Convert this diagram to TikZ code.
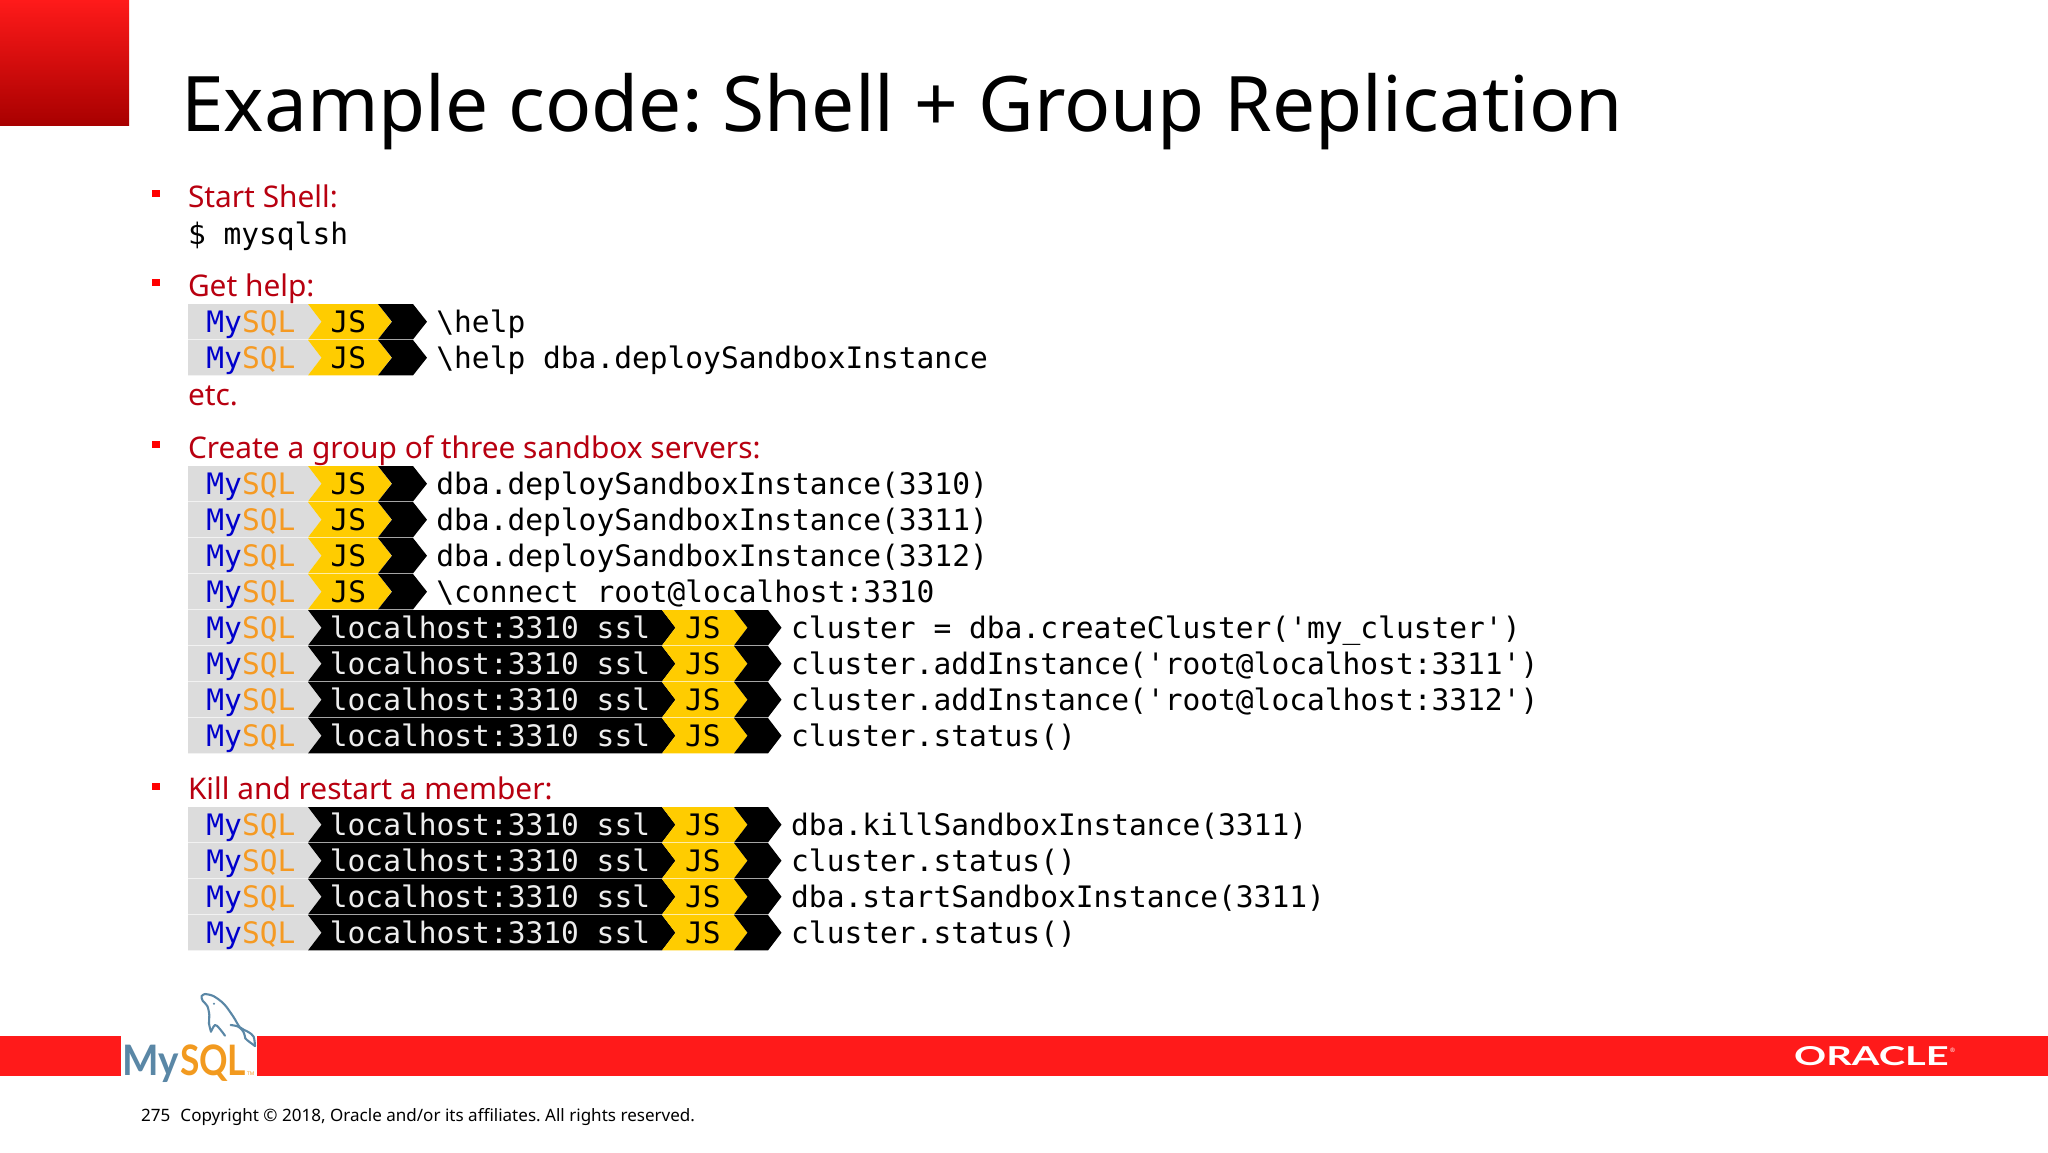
\documentclass[tikz,border=0pt]{standalone}
\usepackage{fontspec}
\usepackage{graphicx}
\setmainfont{Noto Sans}
\newfontfamily\monof{DejaVu Sans Mono}
\newfontfamily\logof{Lato}
\usetikzlibrary{calc}
\frenchspacing
\definecolor{barred}{HTML}{FF1A1A}
\definecolor{topred}{HTML}{A80000}
\definecolor{bodyred}{HTML}{B80010}
\definecolor{promptgrey}{HTML}{DCDCDC}
\definecolor{promptyellow}{HTML}{FFCC00}
\definecolor{myblue}{HTML}{0000CC}
\definecolor{sqlorange}{HTML}{F59A23}
\definecolor{logoblue}{HTML}{5A87A6}
\definecolor{logoorange}{HTML}{F29A1F}
\definecolor{hosttext}{HTML}{EDEDED}
\tikzset{
  x=1pt,y=-1pt,
  txt/.style={anchor=base west,inner sep=0pt,outer sep=0pt},
  head/.style={txt,text=bodyred,font=\fontsize{29.85}{30}\selectfont},
  mono/.style={txt,font=\monof\fontsize{29.55}{30}\selectfont},
  bulletmark/.style={fill=red,draw=none},
  logoline/.style={draw=logoblue,line width=2.1pt,line cap=round,line join=round}
}
\newcommand{\rowh}{35.4}
\newcounter{rowno}
\newcommand{\promptmy}[1]{%
  \fill[promptgrey] (188,#1) -- (308,#1) -- (321.5,#1+\rowh/2) -- (308,#1+\rowh) -- (188,#1+\rowh) -- cycle;
  \node[mono,text=myblue] (my\therowno) at (206.4,#1+28.4) {My};
  \node[mono,text=sqlorange] (sql\therowno) at (242,#1+28.4) {SQL};
}
\newcommand{\chev}[5]{% colour, x0, x1, notch/tip depth, top
  \fill[#1] (#2,#5) -- (#3,#5) -- (#3+#4,#5+\rowh/2) -- (#3,#5+\rowh) -- (#2,#5+\rowh) -- (#2+#4,#5+\rowh/2) -- cycle;
}
\newcommand{\shortrow}[2]{%
  \stepcounter{rowno}
  \promptmy{#1}
  \chev{promptyellow}{308}{378}{13.5}{#1}
  \chev{black}{378}{413}{14}{#1}
  \node[mono] (js\therowno) at (330.6,#1+28.4) {JS};
  \node[mono] (cmd\therowno) at (436.4,#1+28.4) {#2};
}
\newcommand{\longrow}[2]{%
  \stepcounter{rowno}
  \promptmy{#1}
  \chev{black}{308}{662}{13.5}{#1}
  \chev{promptyellow}{662}{734}{13.5}{#1}
  \chev{black}{734}{768}{13.5}{#1}
  \node[mono,text=hosttext] (host\therowno) at (329.9,#1+28.4) {localhost:3310 ssl};
  \node[mono] (js\therowno) at (685,#1+28.4) {JS};
  \node[mono] (cmd\therowno) at (791.2,#1+28.4) {#2};
}
\begin{document}
\begin{tikzpicture}
\useasboundingbox (0,0) rectangle (2048,1152);
\fill[white] (0,0) rectangle (2048,1152);
% corner block
\shade[top color=barred,bottom color=topred] (0,0) rectangle (129,125);
\node[txt,font=\fontsize{76.6}{76}\selectfont] (title) at (181,131.5) {Example code: Shell + Group Replication};
% bullets
\fill[bulletmark] (152,190) rectangle (160,197);
\fill[bulletmark] (152,279) rectangle (160,286);
\fill[bulletmark] (152,441) rectangle (160,448);
\fill[bulletmark] (152,783) rectangle (160,790);
\node[head] (h1) at (188,207) {Start Shell:};
\node[mono] (shell) at (188,244) {\$ mysqlsh};
\node[head] (h2) at (188,296.5) {Get help:};
\shortrow{304}{\textbackslash help}
\shortrow{340}{\textbackslash help dba.deploySandboxInstance}
\node[head] (etc) at (188,405) {etc.};
\node[head] (h3) at (188,458) {Create a group of three sandbox servers:};
\shortrow{466}{dba.deploySandboxInstance(3310)}
\shortrow{502}{dba.deploySandboxInstance(3311)}
\shortrow{538}{dba.deploySandboxInstance(3312)}
\shortrow{574}{\textbackslash connect root@localhost:3310}
\longrow{610}{cluster = dba.createCluster('my\_cluster')}
\longrow{646}{cluster.addInstance('root@localhost:3311')}
\longrow{682}{cluster.addInstance('root@localhost:3312')}
\longrow{718}{cluster.status()}
\node[head] (h4) at (188,799) {Kill and restart a member:};
\longrow{807}{dba.killSandboxInstance(3311)}
\longrow{843}{cluster.status()}
\longrow{879}{dba.startSandboxInstance(3311)}
\longrow{915}{cluster.status()}
% footer band
\fill[barred] (0,1036) rectangle (121,1076);
\fill[barred] (257,1036) rectangle (2048,1076);
% logo
\node[txt,text=logoblue,font=\logof\bfseries\fontsize{42}{42}\selectfont] (logomy) at (122,1075) {\scalebox{0.92}[1]{My}};
\node[txt,text=logoorange,font=\logof\bfseries\fontsize{42}{42}\selectfont] (logosql) at (180,1075) {\scalebox{0.84}[1]{SQL}};
\node[txt,text=logoorange,font=\fontsize{5}{5}\selectfont] (logotm) at (247,1075) {TM};
\begin{scope}[shift={(100,970)},x=0.3333pt,y=-0.3333pt]
\draw[logoline] plot[smooth,tension=0.55] coordinates {(315,72) (340,78) (372,102) (400,140) (420,172) (445,186) (461,200) (465,228)};
\draw[logoline] (465,228) .. controls (452,218) and (442,212) .. (436,205);
\draw[logoline] plot[smooth,tension=0.55] coordinates {(436,205) (430,185) (415,170) (392,165)};
\draw[logoline] plot[smooth,tension=0.55] coordinates {(315,72) (305,78) (308,92) (322,108) (328,135) (327,160) (333,185)};
\draw[logoline] plot[smooth,tension=0.55] coordinates {(333,185) (345,165) (358,175) (375,197)};
\fill[logoblue] (342,101) circle (3.5);
\end{scope}
% oracle
\node[anchor=base west,inner sep=0pt,text=white,font=\logof\bfseries\fontsize{26}{26}\selectfont] (oracle) at (1794,1065) {\scalebox{1.53}[1]{ORACLE}};
\node[anchor=base west,inner sep=0pt,text=white,font=\fontsize{6}{6}\selectfont] (oraclereg) at (1950,1052) {®};
\node[txt,font=\fontsize{17.05}{18}\selectfont] (foot) at (141,1121) {275\hspace{0.6em}Copyright © 2018, Oracle and/or its affiliates. All rights reserved.};
\end{tikzpicture}
\end{document}
